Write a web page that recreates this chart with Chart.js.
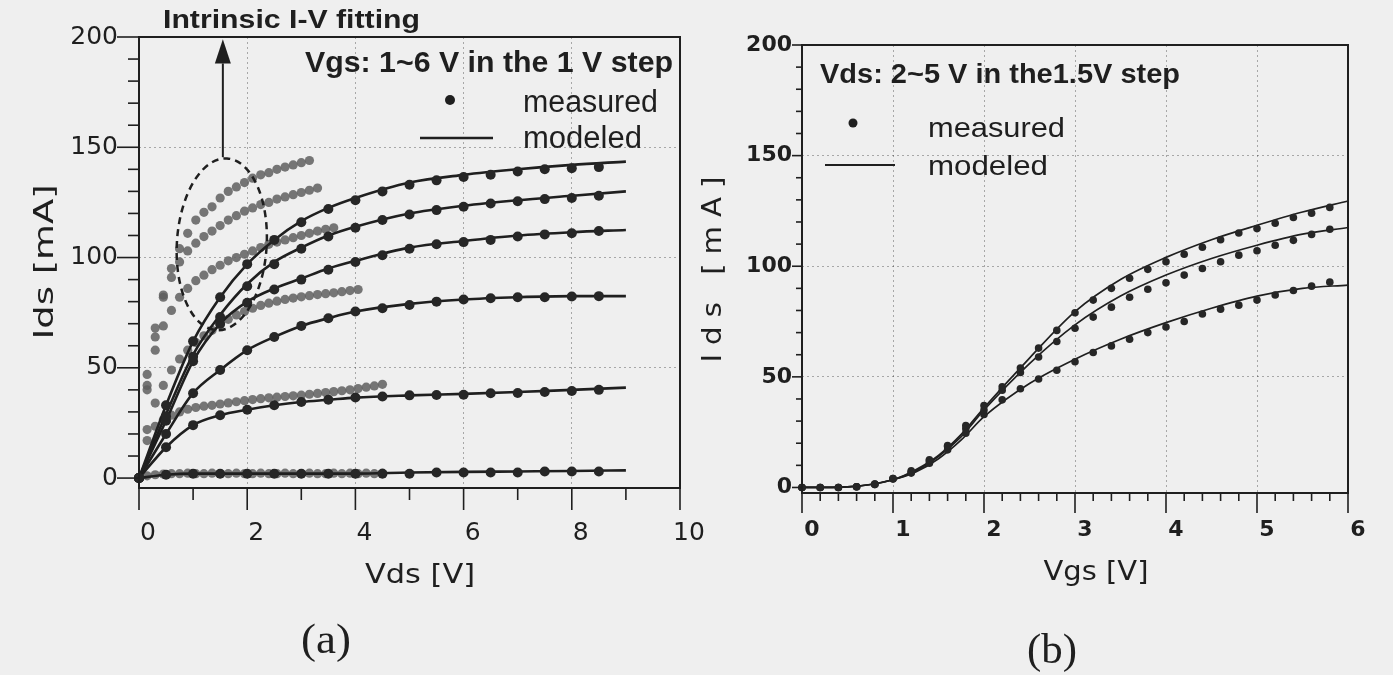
<!DOCTYPE html>
<html>
<head>
<meta charset="utf-8">
<script src="https://cdn.jsdelivr.net/npm/chart.js@4.4.1/dist/chart.umd.min.js"></script>
<style>
body { margin: 0; background: #efefef; }
#wrapA { position: absolute; left: 0; top: 0; width: 720px; height: 675px; }
#wrapB { position: absolute; left: 700px; top: 0; width: 693px; height: 675px; }
</style>
</head>
<body>
<div id="wrapA"><canvas id="chartA"></canvas></div>
<div id="wrapB"><canvas id="chartB"></canvas></div>
<script>
// ---- (a) Ids-Vds, Vgs = 1..6 V ----
var vdsTicks = [0, 2, 4, 6, 8, 10];
var idsTicksA = [0, 50, 100, 150, 200];
var vdsMeas = [0, 0.5, 1, 1.5, 2, 2.5, 3, 3.5, 4, 4.5, 5, 5.5, 6, 6.5, 7, 7.5, 8, 8.5];
var vdsModel = [0, 0.5, 1, 1.5, 2, 2.5, 3, 3.5, 4, 5, 6, 7, 8, 9];

var meas6 = [0, 33, 62, 82, 97, 108, 116, 122, 126, 130, 133, 135, 136.5, 137.5, 139, 140, 140.5, 141];
var meas5 = [0, 28, 55, 73, 87, 97, 104, 109.5, 113.5, 117, 119.5, 121.5, 123, 124.5, 125.5, 126.5, 127, 128];
var meas4 = [0, 26, 53, 70, 79.5, 85.5, 90, 94.5, 98, 101, 104, 106, 107, 108, 109.5, 110.5, 111, 112];
var meas3 = [0, 20, 38.5, 49, 58, 64, 69, 72.5, 75.5, 77, 78.5, 80, 81, 81.5, 82, 82, 82.3, 82.5];
var meas2 = [0, 14, 24, 28.5, 31, 33, 34.5, 35.5, 36.5, 37, 37.5, 37.7, 37.8, 38.5, 38.6, 39, 39.5, 40];
var meas1 = [0, 1.5, 2, 2, 2, 2, 2, 2, 2, 2, 2, 2.5, 2.5, 2.5, 2.5, 3, 3, 3];

var model6 = [0, 33, 62, 82, 97, 108, 116.5, 122.5, 127, 134, 137.5, 140, 142, 143.5];
var model5 = [0, 29, 56, 74, 88, 98, 104.5, 110, 114, 120, 123.5, 126, 128, 130];
var model4 = [0, 26, 53, 70, 80, 86, 90.5, 95, 98.5, 104.5, 107.5, 110, 111.5, 112.5];
var model3 = [0, 20, 38.5, 49, 58, 64, 69, 72.5, 75.5, 79, 81, 82, 82.5, 82.5];
var model2 = [0, 14, 24, 28.5, 31, 33, 34.5, 35.5, 36.5, 37.5, 38.2, 39, 40, 41];
var model1 = [0, 1.5, 2, 2, 2, 2, 2, 2, 2, 2.5, 2.8, 3, 3.2, 3.5];

// intrinsic (gray) measured curves
var vdsIntr = [0, 0.15, 0.3, 0.45, 0.6, 0.75, 0.9, 1.05, 1.2, 1.35, 1.5, 1.65, 1.8, 1.95, 2.1, 2.25, 2.4, 2.55, 2.7, 2.85, 3.0, 3.15, 3.3, 3.45, 3.6, 3.75, 3.9, 4.05, 4.2, 4.35, 4.5];
var intr6 = [0, 42, 64, 83, 95, 104, 111, 117, 120.5, 123, 127, 130, 132, 134, 136, 137.5, 138.5, 140, 141, 142, 143, 144];
var intr5 = [0, 47, 68, 82, 91, 98, 103, 106.5, 109.5, 112, 114.5, 117, 119, 121, 122.5, 124, 125, 126.5, 127.5, 128.5, 129.5, 130.5, 131.5];
var intr4 = [0, 40, 58, 69, 76, 82, 86, 89.5, 92, 94.5, 96.5, 98.5, 100, 101.5, 103, 104.5, 106, 107, 108, 109, 110, 111, 112, 112.8, 113.5];
var intr3 = [0, 22, 34, 42, 49, 54, 58, 61.5, 64.5, 67, 69.5, 72, 74, 75.5, 77, 78.3, 79.3, 80.2, 81, 81.6, 82.2, 82.7, 83.2, 83.6, 84, 84.5, 85, 85.5];
var intr2 = [0, 17, 23.5, 26.5, 28.5, 30, 31.2, 32, 32.6, 33, 33.6, 34.1, 34.6, 35.1, 35.6, 36, 36.4, 36.7, 37, 37.3, 37.6, 38, 38.4, 38.8, 39.2, 39.6, 40, 40.6, 41.2, 41.8, 42.5];
var intr1 = [0, 1, 1.5, 1.8, 2, 2, 2.2, 2, 2, 2.2, 2, 2, 2.2, 2, 2, 2.2, 2, 2, 2.2, 2, 2, 2.2, 2, 2, 2.2, 2, 2.2, 2, 2.2, 2, 2.2];

// ---- (b) Ids-Vgs, Vds = 2, 3.5, 5 V ----
var vgsTicks = [0, 1, 2, 3, 4, 5, 6];
var idsTicksB = [0, 50, 100, 150, 200];
var vgsMeas = [0, 0.2, 0.4, 0.6, 0.8, 1.0, 1.2, 1.4, 1.6, 1.8, 2.0, 2.2, 2.4, 2.6, 2.8, 3.0, 3.2, 3.4, 3.6, 3.8, 4.0, 4.2, 4.4, 4.6, 4.8, 5.0, 5.2, 5.4, 5.6, 5.8];
var vgsModel = [0, 0.5, 1, 1.25, 1.5, 1.75, 2, 2.5, 3, 3.5, 4, 4.5, 5, 5.5, 6];

var measVds5 = [0, 0, 0, 0.3, 1.5, 4, 7.5, 12.5, 19, 28, 37, 45.5, 54, 63, 71, 79, 84.7, 90, 94.6, 98.6, 102, 105.4, 108.6, 112, 115, 117, 119.4, 122, 124, 126.6];
var measVds35 = [0, 0, 0, 0.3, 1.5, 4, 7, 12, 18.5, 26.5, 35, 44, 52, 59, 66, 72, 77, 81.5, 86, 89.6, 92.5, 96, 99, 102, 105, 107, 109.5, 111.7, 114.4, 116.7];
var measVds2 = [0, 0, 0, 0.3, 1.3, 3.8, 6.5, 11, 17, 24.5, 33, 39.6, 44.6, 49, 53, 56.8, 61, 64, 67, 70, 72.5, 75, 78.4, 80.6, 82.4, 84.7, 87, 89, 91, 92.8];

var modelVds5 = [0, 0.3, 3.5, 8, 14.5, 24, 36, 58.5, 79.5, 94, 104, 112, 118.5, 124.5, 129.5];
var modelVds35 = [0, 0.3, 3.5, 7.5, 14, 23, 35, 56, 73.5, 86.5, 96, 103.5, 109.5, 114.5, 117.5];
var modelVds2 = [0, 0.3, 3.5, 7, 13, 21.5, 32, 47, 58, 67, 74.5, 81, 86.5, 90, 91.5];

var INK = '#1f1f1f';

function pts(xs, ys) {
    var out = [];
    for (var i = 0; i < ys.length; i++) out.push({x: xs[i], y: ys[i]});
    return out;
}

function dots(xs, ys, r, color, order) {
    return {data: pts(xs, ys), showLine: false, pointRadius: r, pointBorderWidth: 0,
        pointBackgroundColor: color, clip: false, order: order};
}

function curve(xs, ys, w, order) {
    return {data: pts(xs, ys), showLine: true, pointRadius: 0, borderColor: INK,
        borderWidth: w, cubicInterpolationMode: 'monotone', clip: false, order: order};
}

// text squeezed or stretched to the width it has in the scan
function fitText(ctx, txt, cx, y, w, font, rot, spacing) {
    ctx.save();
    ctx.font = font;
    ctx.letterSpacing = spacing || '0px';
    var m = ctx.measureText(txt).width;
    ctx.translate(cx, y);
    if (rot) ctx.rotate(rot);
    ctx.scale(w / m, 1);
    ctx.textAlign = 'center';
    ctx.textBaseline = rot ? 'middle' : 'alphabetic';
    ctx.fillStyle = INK;
    ctx.fillText(txt, 0, 0);
    ctx.restore();
}

function frameTicks(o) {
    return {
        id: 'frameTicks',
        afterDatasetsDraw: function(chart) {
            var ctx = chart.ctx, a = chart.chartArea;
            var xs = chart.scales.x, ys = chart.scales.y;
            ctx.save();
            ctx.strokeStyle = INK;
            ctx.lineWidth = 2;
            ctx.strokeRect(a.left, a.top, a.right - a.left, a.bottom - a.top);
            ctx.lineWidth = 1.6;
            var i, v, p;
            for (i = 0; i <= o.xN; i++) {
                v = i * o.xStep;
                p = xs.getPixelForValue(v);
                ctx.beginPath();
                ctx.moveTo(p, a.bottom);
                ctx.lineTo(p, a.bottom + (i % o.xEvery === 0 ? o.xLong : o.xShort));
                ctx.stroke();
            }
            for (i = 0; i <= o.yN; i++) {
                v = i * o.yStep;
                p = ys.getPixelForValue(v);
                ctx.beginPath();
                ctx.moveTo(a.left, p);
                ctx.lineTo(a.left - (i % o.yEvery === 0 ? o.yLong : o.yShort), p);
                ctx.stroke();
            }
            ctx.restore();
        }
    };
}

function gridColor(lo, hi) {
    return function(c) {
        var v = c.tick ? c.tick.value : lo;
        return (v > lo && v < hi) ? 'rgba(0,0,0,0.30)' : 'rgba(0,0,0,0)';
    };
}

var annotA = {
    id: 'annotA',
    afterDraw: function(chart) {
        var ctx = chart.ctx, xs = chart.scales.x, ys = chart.scales.y;
        ctx.save();
        // dashed ellipse around the intrinsic curves
        var cx = xs.getPixelForValue(1.53), cy = ys.getPixelForValue(106);
        var rx = xs.getPixelForValue(2.36) - cx, ry = ys.getPixelForValue(67) - cy;
        ctx.strokeStyle = INK;
        ctx.lineWidth = 2.5;
        ctx.setLineDash([7, 5]);
        ctx.beginPath();
        ctx.ellipse(cx, cy, rx, ry, 0.06, 0, Math.PI * 2);
        ctx.stroke();
        ctx.setLineDash([]);
        // arrow
        var ax = xs.getPixelForValue(1.55);
        var y0 = ys.getPixelForValue(145.5), yb = ys.getPixelForValue(188), yt = ys.getPixelForValue(199);
        ctx.lineWidth = 2;
        ctx.beginPath(); ctx.moveTo(ax, y0); ctx.lineTo(ax, yb); ctx.stroke();
        ctx.fillStyle = INK;
        ctx.beginPath(); ctx.moveTo(ax, yt); ctx.lineTo(ax - 8, yb); ctx.lineTo(ax + 8, yb); ctx.closePath(); ctx.fill();
        // legend
        ctx.beginPath(); ctx.arc(450, 100, 5, 0, Math.PI * 2); ctx.fill();
        ctx.lineWidth = 2.5;
        ctx.beginPath(); ctx.moveTo(420, 138); ctx.lineTo(493, 138); ctx.stroke();
        ctx.restore();
        fitText(ctx, 'Intrinsic I-V fitting', 291.5, 28, 257, 'bold 25px "Liberation Sans"');
        fitText(ctx, 'Vgs: 1~6 V in the 1 V step', 489, 72, 368, 'bold 29px "Liberation Sans"');
        fitText(ctx, 'measured', 590.5, 112, 135, '31px "Liberation Sans"');
        fitText(ctx, 'modeled', 582.5, 148, 119, '31px "Liberation Sans"');
        fitText(ctx, 'Vds [V]', 420, 583, 110, '27px "DejaVu Sans"');
        fitText(ctx, '(a)', 326, 653, 50, '42px "Liberation Serif"');
        fitText(ctx, 'Ids [mA]', 46, 262, 155, '27px "DejaVu Sans"', -Math.PI / 2);
    }
};

var annotB = {
    id: 'annotB',
    afterDraw: function(chart) {
        var ctx = chart.ctx;
        ctx.save();
        ctx.fillStyle = INK;
        ctx.strokeStyle = INK;
        ctx.beginPath(); ctx.arc(153, 123, 4.5, 0, Math.PI * 2); ctx.fill();
        ctx.lineWidth = 2;
        ctx.beginPath(); ctx.moveTo(125, 165); ctx.lineTo(195, 165); ctx.stroke();
        ctx.restore();
        fitText(ctx, 'Vds: 2~5 V in the1.5V step', 300, 83, 360, 'bold 27px "Liberation Sans"');
        fitText(ctx, 'measured', 296.5, 137, 137, '28px "Liberation Sans"');
        fitText(ctx, 'modeled', 288, 175, 120, '28px "Liberation Sans"');
        fitText(ctx, 'Vgs [V]', 396, 580, 105, '27px "DejaVu Sans"');
        fitText(ctx, '(b)', 352, 663, 50, '42px "Liberation Serif"');
        fitText(ctx, 'Ids [mA]', 14, 265, 195, '26px "DejaVu Sans"', -Math.PI / 2, '8px');
    }
};

var GRAY = 'rgba(95,95,95,0.85)';
var DOT = '#262626';

var datasetsA = [
    dots(vdsIntr, intr6, 4.6, GRAY, 3), dots(vdsIntr, intr5, 4.6, GRAY, 3),
    dots(vdsIntr, intr4, 4.6, GRAY, 3), dots(vdsIntr, intr3, 4.6, GRAY, 3),
    dots(vdsIntr, intr2, 4.6, GRAY, 3), dots(vdsIntr, intr1, 4.6, GRAY, 3),
    curve(vdsModel, model6, 2.6, 2), curve(vdsModel, model5, 2.6, 2),
    curve(vdsModel, model4, 2.6, 2), curve(vdsModel, model3, 2.6, 2),
    curve(vdsModel, model2, 2.6, 2), curve(vdsModel, model1, 2.6, 2),
    dots(vdsMeas, meas6, 5, DOT, 1), dots(vdsMeas, meas5, 5, DOT, 1),
    dots(vdsMeas, meas4, 5, DOT, 1), dots(vdsMeas, meas3, 5, DOT, 1),
    dots(vdsMeas, meas2, 5, DOT, 1), dots(vdsMeas, meas1, 5, DOT, 1)
];

var datasetsB = [
    curve(vgsModel, modelVds5, 1.7, 2), curve(vgsModel, modelVds35, 1.7, 2), curve(vgsModel, modelVds2, 1.7, 2),
    dots(vgsMeas, measVds5, 3.8, DOT, 1), dots(vgsMeas, measVds35, 3.8, DOT, 1), dots(vgsMeas, measVds2, 3.8, DOT, 1)
];

// keep the plot frame where the scan has it, whatever the label overhang
function noOverhang(h) {
    return function(s) { s.height = h; s.paddingLeft = 0; s.paddingRight = 0; };
}

var chartA = new Chart(document.getElementById('chartA'), {
    type: 'scatter',
    data: {datasets: datasetsA},
    options: {
        responsive: true,
        maintainAspectRatio: false,
        animation: false,
        layout: {padding: {left: 0, right: 40, top: 37, bottom: 0}},
        plugins: {legend: {display: false}, tooltip: {enabled: false}},
        scales: {
            x: {
                type: 'linear', min: 0, max: 10,
                afterFit: noOverhang(187),
                afterBuildTicks: function(s) { s.ticks = vdsTicks.map(function(v) { return {value: v}; }); },
                grid: {drawTicks: false, lineWidth: 1, color: gridColor(0, 10)},
                border: {display: false, dash: [2, 3]},
                ticks: {
                    color: INK, padding: 30, labelOffset: 9, maxRotation: 0, autoSkip: false,
                    font: {family: 'DejaVu Sans', size: 25}
                }
            },
            y: {
                type: 'linear', min: -4.5, max: 200,
                afterFit: function(s) { s.width = 139; },
                afterBuildTicks: function(s) { s.ticks = idsTicksA.map(function(v) { return {value: v}; }); },
                grid: {drawTicks: false, lineWidth: 1, color: gridColor(0, 200)},
                border: {display: false, dash: [2, 3]},
                ticks: {color: INK, padding: 21, font: {family: 'DejaVu Sans', size: 25}}
            }
        }
    },
    plugins: [frameTicks({xN: 10, xStep: 1, xEvery: 2, xLong: 22, xShort: 12,
        yN: 20, yStep: 10, yEvery: 5, yLong: 22, yShort: 11}), annotA]
});

var chartB = new Chart(document.getElementById('chartB'), {
    type: 'scatter',
    data: {datasets: datasetsB},
    options: {
        responsive: true,
        maintainAspectRatio: false,
        animation: false,
        layout: {padding: {left: 0, right: 45, top: 45, bottom: 0}},
        plugins: {legend: {display: false}, tooltip: {enabled: false}},
        scales: {
            x: {
                type: 'linear', min: 0, max: 6,
                afterFit: noOverhang(182),
                afterBuildTicks: function(s) { s.ticks = vgsTicks.map(function(v) { return {value: v}; }); },
                grid: {drawTicks: false, lineWidth: 1, color: gridColor(0, 6)},
                border: {display: false, dash: [2, 3]},
                ticks: {
                    color: INK, padding: 24, labelOffset: 10, maxRotation: 0, autoSkip: false,
                    font: {family: 'DejaVu Sans', size: 22, weight: 'bold'}
                }
            },
            y: {
                type: 'linear', min: -2.5, max: 200,
                afterFit: function(s) { s.width = 102; },
                afterBuildTicks: function(s) { s.ticks = idsTicksB.map(function(v) { return {value: v}; }); },
                grid: {drawTicks: false, lineWidth: 1, color: gridColor(0, 200)},
                border: {display: false, dash: [2, 3]},
                ticks: {color: INK, padding: 10, font: {family: 'DejaVu Sans', size: 22, weight: 'bold'}}
            }
        }
    },
    plugins: [frameTicks({xN: 30, xStep: 0.2, xEvery: 5, xLong: 20, xShort: 8,
        yN: 20, yStep: 10, yEvery: 5, yLong: 10, yShort: 6}), annotB]
});
</script>
</body>
</html>
